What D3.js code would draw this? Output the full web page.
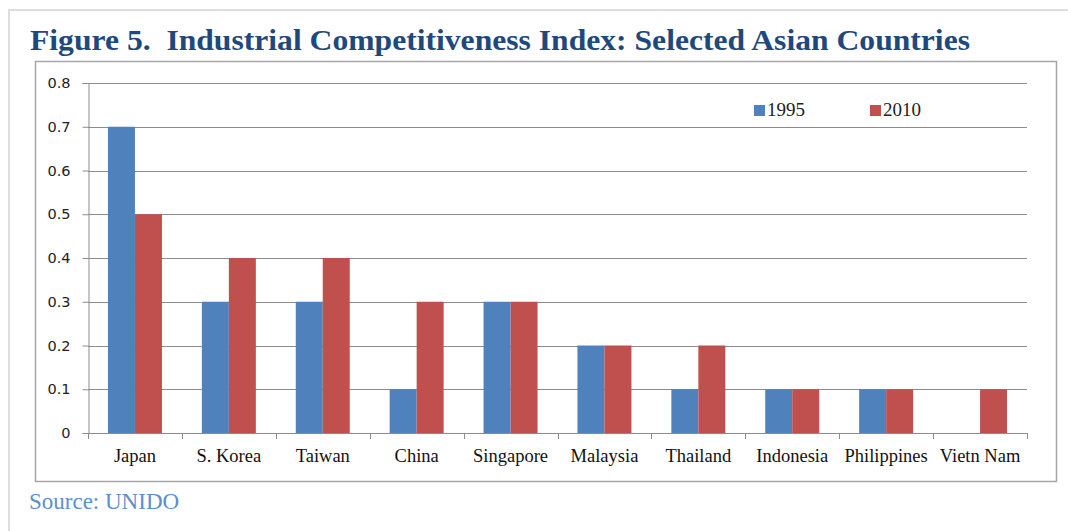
<!DOCTYPE html>
<html>
<head>
<meta charset="utf-8">
<script src="https://cdn.jsdelivr.net/npm/d3@7"></script>
<style>
  body { margin: 0; background: #fff; }
</style>
</head>
<body>
<script>
// data
var countries = ["Japan", "S. Korea", "Taiwan", "China", "Singapore", "Malaysia", "Thailand", "Indonesia", "Philippines", "Vietn Nam"];
var v1995 = [0.7, 0.3, 0.3, 0.1, 0.3, 0.2, 0.1, 0.1, 0.1, null];
var v2010 = [0.5, 0.4, 0.4, 0.3, 0.3, 0.2, 0.2, 0.1, 0.1, 0.1];
var seriesNames = ["1995", "2010"];
var seriesColors = ["#4F81BD", "#C0504D"];
var yTicks = [0, 0.1, 0.2, 0.3, 0.4, 0.5, 0.6, 0.7, 0.8];

var W = 1068, H = 531;
var svg = d3.select("body").append("svg").attr("width", W).attr("height", H);

// page frame lines (light gray)
svg.append("line").attr("x1", 8).attr("x2", W).attr("y1", 10).attr("y2", 10)
  .attr("stroke", "#dedede").attr("stroke-width", 2);
svg.append("line").attr("x1", 9).attr("x2", 9).attr("y1", 10).attr("y2", H)
  .attr("stroke", "#dedede").attr("stroke-width", 2);

svg.append("text")
  .attr("x", 30).attr("y", 50)
  .attr("fill", "#1F497D")
  .attr("textLength", 940).attr("lengthAdjust", "spacingAndGlyphs")
  .style("font-family", "'Liberation Serif', serif")
  .style("font-weight", "bold")
  .style("font-size", "30px")
  .text("Figure 5.\u00a0 Industrial Competitiveness Index: Selected Asian Countries");

// chart box
svg.append("rect").attr("x", 35.5).attr("y", 61.5).attr("width", 1021).attr("height", 420)
  .attr("fill", "#fff").attr("stroke", "#a6a6a6").attr("stroke-width", 1.5);

var plot = { left: 88, right: 1027, top: 83, bottom: 433 };

var x0 = d3.scaleBand().domain(countries)
  .range([plot.left, plot.right])
  .paddingInner(0.425).paddingOuter(0.2125);
var x1 = d3.scaleBand().domain(seriesNames).range([0, x0.bandwidth()]);
var y = d3.scaleLinear().domain([0, 0.8]).range([plot.bottom, plot.top]);

// gridlines
svg.append("g").selectAll("line").data(yTicks.filter(function(d) { return d > 0; }))
  .enter().append("line")
  .attr("x1", plot.left).attr("x2", plot.right)
  .attr("y1", function(d) { return Math.round(y(d)) + 0.5; })
  .attr("y2", function(d) { return Math.round(y(d)) + 0.5; })
  .attr("stroke", "#8c8c8c").attr("stroke-width", 1);

// bars
var rows = countries.map(function(c, i) { return { c: c, vals: [v1995[i], v2010[i]] }; });
var grp = svg.append("g").selectAll("g").data(rows).enter().append("g")
  .attr("transform", function(d) { return "translate(" + x0(d.c) + ",0)"; });
grp.selectAll("rect")
  .data(function(d) { return d.vals.map(function(v, k) { return { v: v, k: k }; }).filter(function(e) { return e.v != null; }); })
  .enter().append("rect")
  .attr("x", function(d) { return x1(seriesNames[d.k]); })
  .attr("width", x1.bandwidth())
  .attr("y", function(d) { return y(d.v); })
  .attr("height", function(d) { return y(0) - y(d.v); })
  .attr("fill", function(d) { return seriesColors[d.k]; });

// y axis
var yAxis = svg.append("g").attr("transform", "translate(" + (plot.left + 0.5) + ",0)")
  .call(d3.axisLeft(y).tickValues(yTicks).tickSize(6).tickPadding(12)
    .tickFormat(function(d) { return d === 0 ? "0" : d3.format(".1f")(d); }));
yAxis.select(".domain").attr("stroke", "#8c8c8c");
yAxis.selectAll(".tick line").attr("stroke", "#8c8c8c");
yAxis.selectAll("text").attr("fill", "#222")
  .style("font-family", "'DejaVu Sans', sans-serif").style("font-size", "14.5px");

// x axis: ticks at category boundaries
var step = x0.step();
var bounds = d3.range(countries.length + 1).map(function(i) { return plot.left + i * step; });
svg.append("line").attr("x1", plot.left).attr("x2", plot.right)
  .attr("y1", plot.bottom + 0.5).attr("y2", plot.bottom + 0.5)
  .attr("stroke", "#8c8c8c");
svg.append("g").selectAll("line").data(bounds).enter().append("line")
  .attr("x1", function(d) { return Math.round(d) + 0.5; })
  .attr("x2", function(d) { return Math.round(d) + 0.5; })
  .attr("y1", plot.bottom).attr("y2", plot.bottom + 6)
  .attr("stroke", "#8c8c8c");
svg.append("g").selectAll("text").data(countries).enter().append("text")
  .attr("x", function(d) { return x0(d) + x0.bandwidth() / 2; })
  .attr("y", 462)
  .attr("text-anchor", "middle")
  .attr("fill", "#111")
  .style("font-family", "'Liberation Serif', serif")
  .style("font-size", "18.5px")
  .text(function(d) { return d; });

// legend
var legX = [754, 870];
var leg = svg.append("g").selectAll("g").data(seriesNames).enter().append("g")
  .attr("transform", function(d, i) { return "translate(" + legX[i] + ",105)"; });
leg.append("rect").attr("width", 11).attr("height", 11)
  .attr("fill", function(d, i) { return seriesColors[i]; });
leg.append("text").attr("x", 13).attr("y", 11)
  .attr("fill", "#222")
  .style("font-family", "'Liberation Serif', serif")
  .style("font-size", "19px")
  .text(function(d) { return d; });

svg.append("text")
  .attr("x", 29).attr("y", 509)
  .attr("fill", "#5B8FD0")
  .style("font-family", "'Liberation Serif', serif")
  .style("font-size", "23px")
  .text("Source: UNIDO");
</script>
</body>
</html>
